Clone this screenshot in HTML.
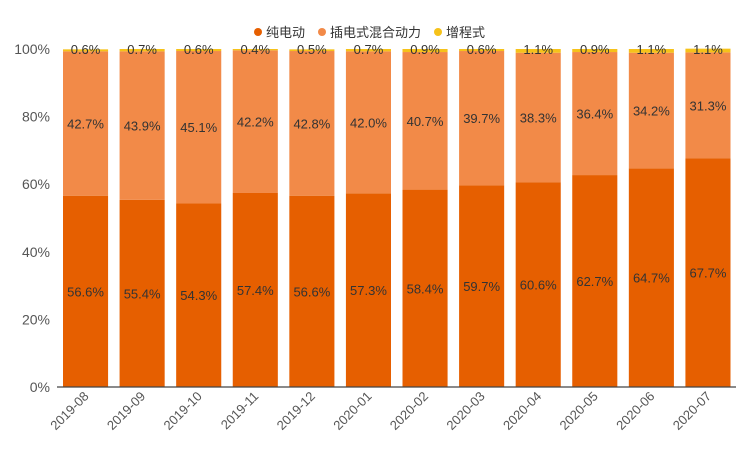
<!DOCTYPE html>
<html><head><meta charset="utf-8"><style>
body{margin:0;background:#fff;}
svg text{font-family:"Liberation Sans","DejaVu Sans","Noto Sans CJK SC",sans-serif;}
</style></head><body>
<svg id="c" width="744" height="466" viewBox="0 0 744 466">
<g id="legend">
<g><circle cx="258" cy="32" r="4" fill="#e65f00"/><text x="266" y="37" font-size="13" fill="#333" font-family="Noto Sans CJK SC, sans-serif">纯电动</text></g>
<g><circle cx="322" cy="32" r="4" fill="#f28a48"/><text x="330" y="37" font-size="13" fill="#333" font-family="Noto Sans CJK SC, sans-serif">插电式混合动力</text></g>
<g><circle cx="438" cy="32" r="4" fill="#f6c21a"/><text x="446" y="37" font-size="13" fill="#333" font-family="Noto Sans CJK SC, sans-serif">增程式</text></g>
</g>
<g id="plot"></g>
</svg>
<script>
const categories=["2019-08","2019-09","2019-10","2019-11","2019-12","2020-01","2020-02","2020-03","2020-04","2020-05","2020-06","2020-07"];
const bev=[56.6,55.4,54.3,57.4,56.6,57.3,58.4,59.7,60.6,62.7,64.7,67.7];
const phev=[42.7,43.9,45.1,42.2,42.8,42.0,40.7,39.7,38.3,36.4,34.2,31.3];
const erev=[0.6,0.7,0.6,0.4,0.5,0.7,0.9,0.6,1.1,0.9,1.1,1.1];
const yTicks=[0,20,40,60,80,100];
const L=57,R=736,T=49,B=387;
const slot=(R-L)/categories.length;
const x=i=>L+i*slot;
const y=v=>B-(B-T)*v/100;
const ns="http://www.w3.org/2000/svg";
const g=document.getElementById('plot');
function mk(t,a){const e=document.createElementNS(ns,t);for(const k in a)e.setAttribute(k,a[k]);g.appendChild(e);return e;}
yTicks.forEach(v=>{
 const t=mk('text',{x:50,y:y(v)+5,'font-size':14,fill:'#555','text-anchor':'end'});
 t.textContent=v+'%';
 
 
});
const series=[[bev,'#e65f00','bev'],[phev,'#f28a48','phev'],[erev,'#f6c21a','erev']];
categories.forEach((c,i)=>{
 let base=0;
 const bx=x(i)+6,bw=slot-11.5;
 series.forEach(([arr,col,nm])=>{
  const v=arr[i];
  const r=mk('rect',{x:bx,y:y(base+v),width:bw,height:y(base)-y(base+v),fill:col});
  
  
  base+=v;
 });
 let ly=[y(bev[i]/2)+5,y(bev[i]+phev[i]/2)+5,y(100)+5];
 series.forEach(([arr,col,nm],k)=>{
  const t=mk('text',{x:bx+bw/2,y:ly[k],'font-size':13,fill:'#333','text-anchor':'middle'});
  t.textContent=arr[i].toFixed(1)+'%';
  
  
 });
 const cx=bx+bw/2+4,cy=B+10;
 const t=mk('text',{x:cx,y:cy,'font-size':13,fill:'#555','text-anchor':'end',transform:`rotate(-45 ${cx} ${cy})`});
 t.textContent=c;
 
 
});
const ax=mk('line',{x1:L,x2:R,y1:B,y2:B,stroke:'#444','stroke-width':1.2});


</script>
</body></html>
